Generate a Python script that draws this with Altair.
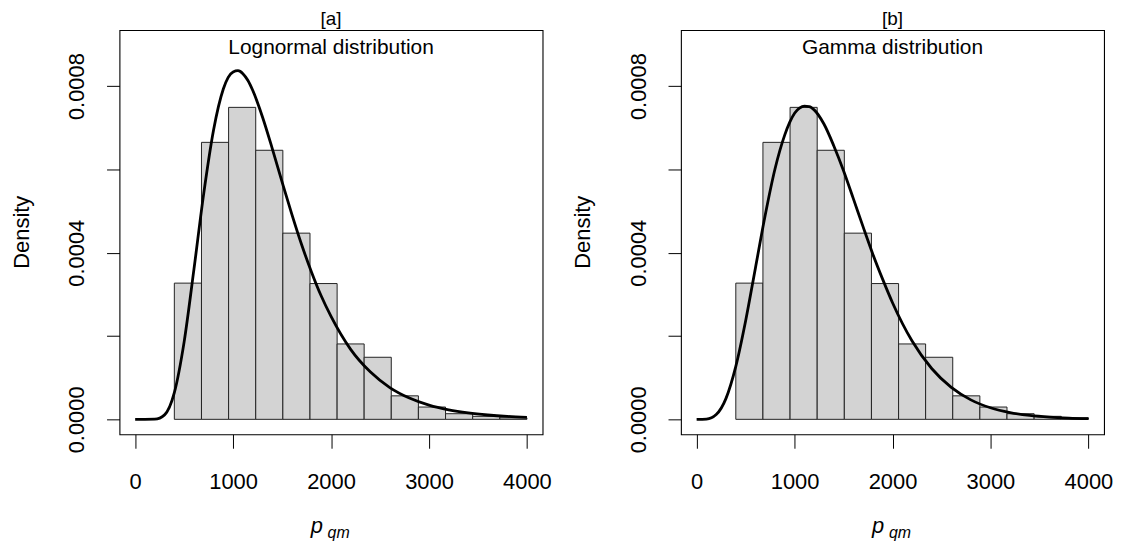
import altair as alt
import pandas as pd

# ---- data ----
bin_left = [400, 677, 954, 1231, 1508, 1785, 2062, 2338, 2615, 2892, 3169, 3446, 3723]
bin_right = [677, 954, 1231, 1508, 1785, 2062, 2338, 2615, 2892, 3169, 3446, 3723, 4000]
hist_density = [0.000327, 0.000665, 0.000749, 0.000646, 0.000447, 0.000326, 0.000181,
                0.000149, 0.0000564, 0.0000295, 0.0000135, 0.0000072, 0.0000036]

curve_x = [0, 100, 200, 300, 400, 500, 600, 700, 800, 900, 950, 1000, 1050, 1100, 1150,
           1200, 1300, 1400, 1500, 1600, 1700, 1800, 1900, 2000, 2200, 2400, 2600, 2800,
           3000, 3200, 3400, 3600, 3800, 4000]
lognormal_y = [0.0, 0.0, 0.00000039, 0.0000108, 0.0000641, 0.000186, 0.000360, 0.000542,
               0.000694, 0.000793, 0.000821, 0.000834, 0.000837, 0.000830, 0.000814,
               0.000790, 0.000726, 0.000650, 0.000570, 0.000492, 0.000419, 0.000354,
               0.000296, 0.000247, 0.000168, 0.000114, 0.0000763, 0.0000511, 0.0000341,
               0.0000229, 0.0000154, 0.0000104, 0.0000070, 0.0000048]
gamma_y = [0.0, 0.00000069, 0.0000115, 0.0000503, 0.000127, 0.000236, 0.000363, 0.000490,
           0.000601, 0.000683, 0.000713, 0.000735, 0.000747, 0.000752, 0.000751,
           0.000743, 0.000709, 0.000657, 0.000597, 0.000530, 0.000462, 0.000396,
           0.000336, 0.000280, 0.000188, 0.000122, 0.0000766, 0.0000467, 0.0000278,
           0.0000162, 0.0000093, 0.0000052, 0.0000029, 0.0000016]

x_ticks = [0, 1000, 2000, 3000, 4000]
y_ticks = [0.0, 0.0002, 0.0004, 0.0006, 0.0008]

W, H = 425, 406
FONT = "Liberation Sans"

xscale = alt.Scale(domain=[-160, 4160], nice=False, zero=False)
yscale = alt.Scale(domain=[-0.0000359, 0.0009345], nice=False, zero=False)

xaxis = alt.Axis(values=x_ticks, title=None, domain=False, grid=False, tickSize=14,
                 tickColor="black", tickWidth=1, labelFontSize=22, labelPadding=23,
                 labelFlush=False, labelOverlap=False, labelColor="black", format="d",
                 labelFont=FONT)
yaxis = alt.Axis(values=y_ticks, title=None, domain=False, grid=False, tickSize=13,
                 tickColor="black", tickWidth=1, labelFontSize=22, labelPadding=18,
                 labelAngle=270, labelAlign="center", labelBaseline="bottom",
                 labelFlush=False, labelOverlap=False, labelColor="black", labelFont=FONT,
                 labelExpr="indexof(['0.0002','0.0006'], format(datum.value, '.4f')) >= 0 ? '' : format(datum.value, '.4f')")


def panel(tag, label, curve_vals):
    hist = pd.DataFrame({"x0": bin_left, "x1": bin_right, "d": hist_density})
    curve = pd.DataFrame({"x": curve_x, "y": curve_vals})
    one = pd.DataFrame({"a": [0]})

    bars = alt.Chart(hist).mark_rect(fill="#d3d3d3", stroke="#222222", strokeWidth=1).encode(
        x=alt.X("x0:Q", scale=xscale, axis=xaxis),
        x2="x1:Q",
        y=alt.Y("d:Q", scale=yscale, axis=yaxis),
        y2=alt.datum(0),
    )
    line = alt.Chart(curve).mark_line(color="black", strokeWidth=2.8,
                                      interpolate="monotone").encode(
        x=alt.X("x:Q", scale=xscale, axis=xaxis),
        y=alt.Y("y:Q", scale=yscale, axis=yaxis),
    )
    dist = alt.Chart(one).mark_text(text=label, fontSize=21, font=FONT, color="black",
                                    align="center", baseline="alphabetic").encode(
        x=alt.value(W / 2), y=alt.value(23.5))
    title = alt.Chart(one).mark_text(text=tag, fontSize=19, font=FONT, color="black",
                                     align="center", baseline="alphabetic").encode(
        x=alt.value(W / 2), y=alt.value(-5))
    ylab = alt.Chart(one).mark_text(text="Density", fontSize=22, font=FONT, color="black",
                                    align="center", baseline="middle", angle=270).encode(
        x=alt.value(-98), y=alt.value(H / 2))
    xp = alt.Chart(one).mark_text(text="p", fontSize=22, font=FONT, fontStyle="italic",
                                  color="black", align="left",
                                  baseline="alphabetic").encode(
        x=alt.value(192), y=alt.value(505.5))
    xsub = alt.Chart(one).mark_text(text="qm", fontSize=16, font=FONT, fontStyle="italic",
                                    color="black", align="left",
                                    baseline="alphabetic").encode(
        x=alt.value(209), y=alt.value(510.5))
    return alt.layer(bars, line, dist, title, ylab, xp, xsub).properties(width=W, height=H)


left = panel("[a]", "Lognormal distribution", lognormal_y)
right = panel("[b]", "Gamma distribution", gamma_y)

chart = alt.hconcat(left, right, spacing=19).properties(
    padding={"left": 2, "top": 0, "right": 2, "bottom": 0}
).configure(font=FONT).configure_view(stroke="black", strokeWidth=1.1)

chart.save("out.html", embed_options={"renderer": "svg", "actions": False})
